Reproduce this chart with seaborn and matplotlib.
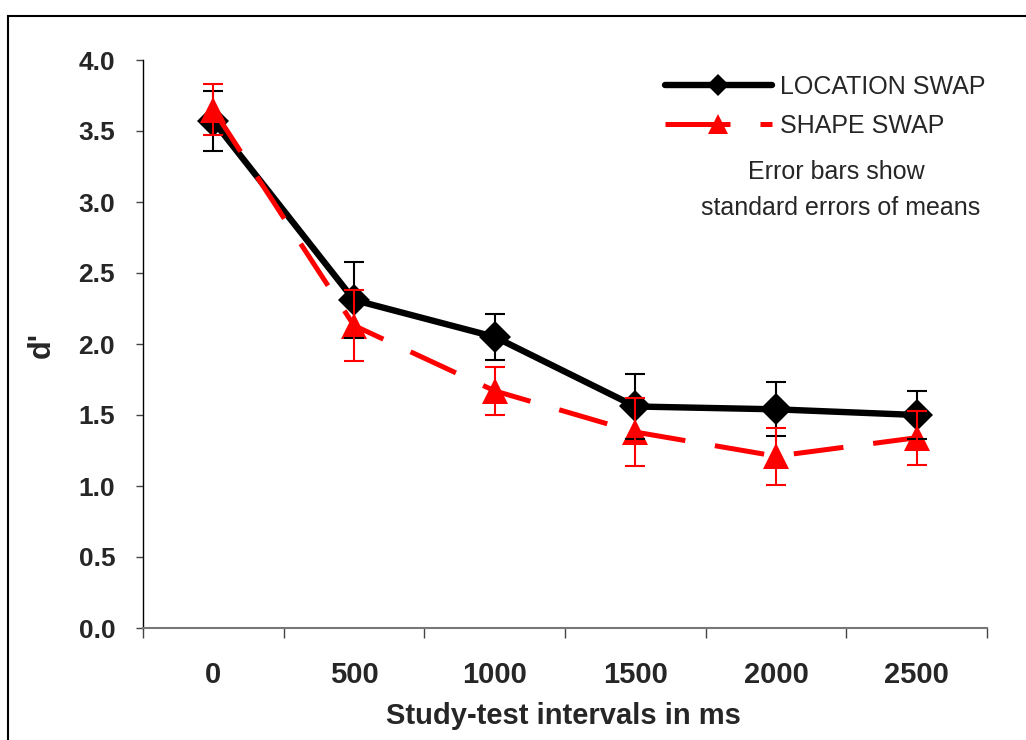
import matplotlib
matplotlib.use("Agg")
import matplotlib.pyplot as plt
from matplotlib.lines import Line2D
from matplotlib.patches import Rectangle
from matplotlib.ticker import FixedLocator, FormatStrFormatter
import numpy as np
import pandas as pd
import seaborn as sns

# ---- data ----
intervals = ["0", "500", "1000", "1500", "2000", "2500"]
location_mean = [3.57, 2.31, 2.05, 1.56, 1.54, 1.50]
location_se = [0.21, 0.27, 0.16, 0.23, 0.19, 0.17]
shape_mean = [3.65, 2.13, 1.67, 1.38, 1.21, 1.34]
shape_se = [0.18, 0.25, 0.17, 0.24, 0.20, 0.19]
series_names = ["LOCATION SWAP", "SHAPE SWAP"]
y_ticks = [0.0, 0.5, 1.0, 1.5, 2.0, 2.5, 3.0, 3.5, 4.0]

sns.set_theme(style="white")
plt.rcParams["font.family"] = ["Liberation Sans", "DejaVu Sans"]

pos = np.arange(len(intervals))
df = pd.DataFrame({
    "pos": np.concatenate([pos, pos]),
    "interval": intervals * 2,
    "mean": location_mean + shape_mean,
    "se": location_se + shape_se,
    "condition": [series_names[0]] * len(intervals) + [series_names[1]] * len(intervals),
})

fig = plt.figure(figsize=(10.26, 7.4), dpi=100)
ax = fig.add_axes([143 / 1026, 1 - 628 / 740, (987 - 143) / 1026, (628 - 60) / 740])

colors = {series_names[0]: "black", series_names[1]: "#ff0000"}
sns.lineplot(
    data=df, x="pos", y="mean", hue="condition", style="condition",
    palette=colors,
    markers={series_names[0]: "D", series_names[1]: "^"},
    dashes={series_names[0]: "", series_names[1]: (10, 6)},
    linewidth=3.6, markersize=16, markeredgewidth=0,
    legend=False, ax=ax, errorbar=None, zorder=3,
)
for ln in ax.get_lines():
    if ln.get_marker() == "^":
        ln.set_markersize(19)
    elif ln.get_marker() == "D":
        ln.set_linewidth(4.6)

for name, m, s in [(series_names[0], location_mean, location_se),
                   (series_names[1], shape_mean, shape_se)]:
    ax.errorbar(pos, m, yerr=s, fmt="none", ecolor=colors[name],
                elinewidth=1.5, capsize=7, capthick=1.5, zorder=4)

ax.set_xlim(-0.5, len(intervals) - 0.5)
ax.set_ylim(0, 4.0)
ax.set_xlabel("")
ax.set_ylabel("")

for sp in ["top", "right"]:
    ax.spines[sp].set_visible(False)
ax.spines["left"].set_color("black")
ax.spines["left"].set_linewidth(1.0)
ax.spines["bottom"].set_color("#777777")
ax.spines["bottom"].set_linewidth(1.5)

# y ticks
ax.set_yticks(y_ticks)
ax.yaxis.set_major_formatter(FormatStrFormatter("%.1f"))
ax.tick_params(axis="y", direction="out", length=5, width=1, color="#444444",
               pad=15, labelsize=19, left=True)
for t in ax.get_yticklabels():
    t.set_fontweight("bold")

# x ticks: marks at category boundaries, labels at centres
ax.xaxis.set_major_locator(FixedLocator(np.arange(-0.5, len(intervals), 1.0)))
ax.xaxis.set_minor_locator(FixedLocator(pos))
ax.set_xticklabels([""] * (len(intervals) + 1))
ax.set_xticklabels(intervals, minor=True)
ax.tick_params(axis="x", which="major", direction="out", length=7, width=1,
               color="#444444", bottom=True)
ax.tick_params(axis="x", which="minor", length=0, pad=24, labelsize=21, bottom=True)
for t in ax.get_xticklabels(minor=True):
    t.set_fontweight("bold")

# axis titles
fig.text(563 / 1026, 1 - 716 / 740, "Study-test intervals in ms", ha="center", va="center",
         fontsize=21, fontweight="bold")
fig.text(42 / 1026, 1 - 345 / 740, "d'", ha="center", va="center", rotation=90,
         fontsize=22, fontweight="bold")

# legend
handles = [
    Line2D([], [], color="black", lw=4.6, marker="D", markersize=11, markeredgewidth=0),
    Line2D([], [], color="#ff0000", lw=3.6, dashes=(13, 6), marker="^", markersize=14,
           markeredgewidth=0),
]
leg = ax.legend(handles, series_names, loc="upper right",
                bbox_to_anchor=(985 / 1026, 1 - 75 / 740), bbox_transform=fig.transFigure,
                frameon=False, fontsize=18, handlelength=4.3, handletextpad=0.3,
                labelspacing=0.6, borderpad=0, borderaxespad=0, numpoints=1)

fig.text(836 / 1026, 1 - 172 / 740, "Error bars show", ha="center", va="center",
         fontsize=18)
fig.text(841 / 1026, 1 - 208 / 740, "standard errors of means", ha="center", va="center",
         fontsize=18)

# outer frame
fig.patches.append(Rectangle((8 / 1026, -0.1), 1.2, (1 - 16 / 740) + 0.1, fill=False,
                             lw=1.5, ec="black", transform=fig.transFigure, figure=fig))

fig.savefig("out.png", dpi=100)
